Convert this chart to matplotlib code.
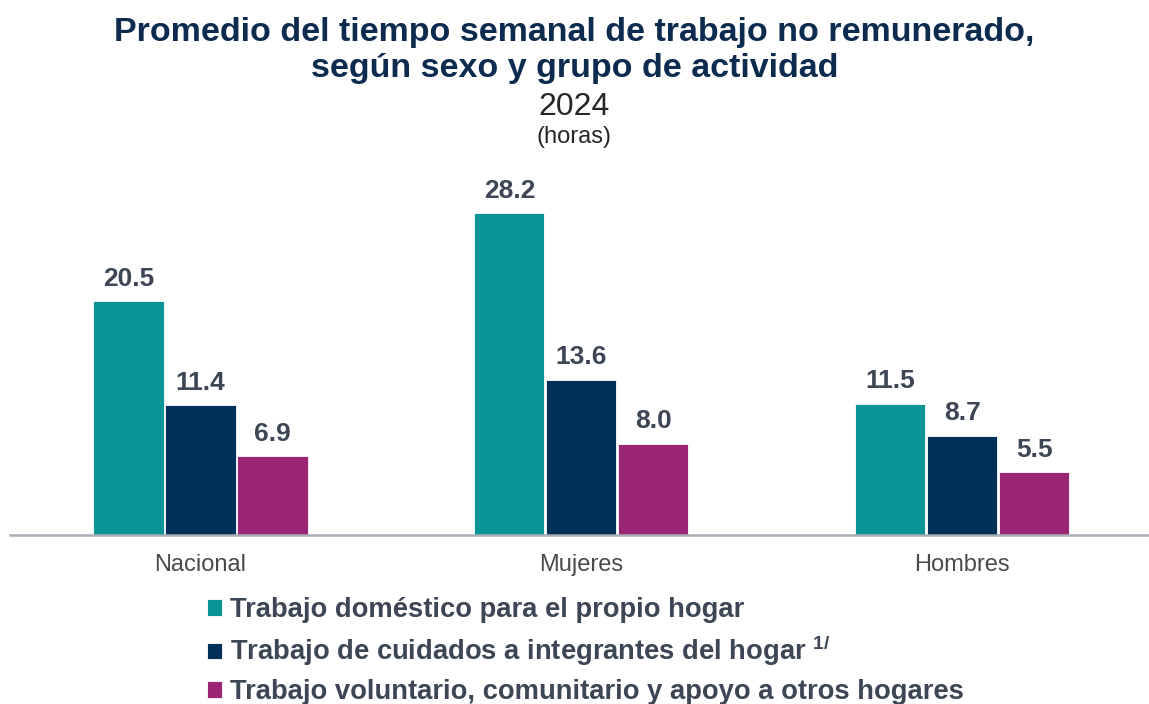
import matplotlib
matplotlib.use('Agg')
from matplotlib import pyplot as plt
import numpy as np

# data
groups = ['Nacional', 'Mujeres', 'Hombres']
series = [
    'Trabajo doméstico para el propio hogar',
    r'Trabajo de cuidados a integrantes del hogar $^{\mathregular{1/}}$',
    'Trabajo voluntario, comunitario y apoyo a otros hogares',
]
domestico = [20.5, 28.2, 11.5]
cuidados = [11.4, 13.6, 8.7]
voluntario = [6.9, 8.0, 5.5]

colors = ['#099596', '#003057', '#9C2474']

plt.rcParams['font.family'] = ['Liberation Sans', 'DejaVu Sans']

fig = plt.figure(figsize=(11.49, 7.04), dpi=100)
ax = fig.add_axes([10/1149, 169/704, 1139/1149, 355/704])

x = np.arange(len(groups))
w = 0.184
step = 0.189
handles = []
for i, (vals, c) in enumerate(zip([domestico, cuidados, voluntario], colors)):
    bars = ax.bar(x + (i - 1) * step, vals, width=w, color=c, edgecolor='white', linewidth=0.6)
    handles.append(bars)
    for xb, v in zip(x + (i - 1) * step, vals):
        ax.annotate(f'{v:.1f}', (xb, v), xytext=(0, 11), textcoords='offset points',
                    ha='center', va='baseline', fontsize=19, fontweight='bold', color='#3D4654')

ax.set_xlim(-0.5, 2.49)
ax.set_ylim(0, 31.1)
ax.set_yticks([])
ax.set_xticks(x)
ax.set_xticklabels(groups, fontsize=17, color='#4A4A4A')
ax.tick_params(axis='x', length=0, pad=14)
for s in ['top', 'right', 'left']:
    ax.spines[s].set_visible(False)
ax.spines['bottom'].set_color('#A8AEB5')
ax.spines['bottom'].set_linewidth(1.8)

# titles
fig.text(0.5, 1 - 33/704, 'Promedio del tiempo semanal de trabajo no remunerado,',
         ha='center', va='center', fontsize=24.5, fontweight='bold', color='#0D2B4E')
fig.text(0.5, 1 - 68/704, 'según sexo y grupo de actividad',
         ha='center', va='center', fontsize=24.5, fontweight='bold', color='#0D2B4E')
fig.text(0.5, 1 - 107/704, '2024', ha='center', va='center', fontsize=23, color='#262626')
fig.text(0.5, 1 - 137/704, '(horas)', ha='center', va='center', fontsize=17, color='#262626')

fig.legend(handles, series, loc='upper left', bbox_to_anchor=(207/1149, 1 - 597/704),
           frameon=False, prop={'weight': 'bold', 'size': 19.7},
           handlelength=0.55, handleheight=0.55, handletextpad=0.3, labelspacing=0.4,
           borderpad=0, borderaxespad=0, labelcolor='#3D4654')

fig.savefig('out.png', dpi=100)
